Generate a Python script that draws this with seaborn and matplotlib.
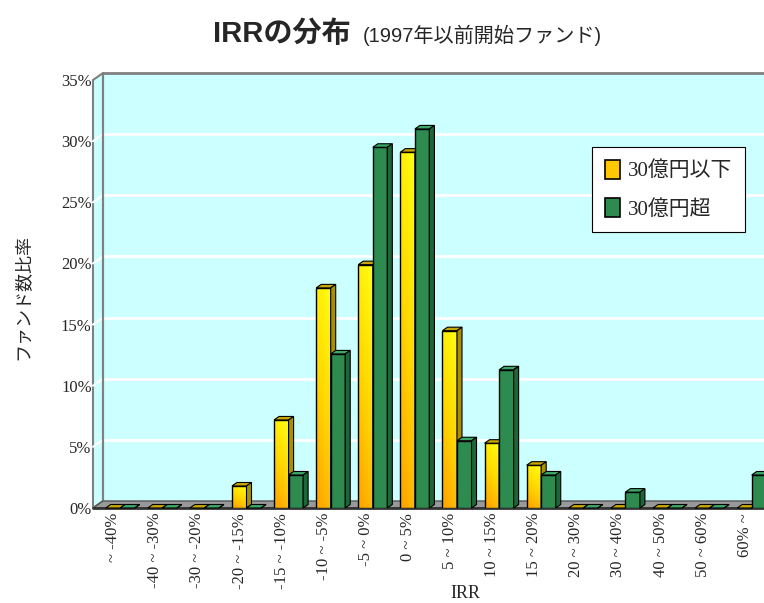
import numpy as np
import pandas as pd
import matplotlib
matplotlib.use('Agg')
import matplotlib.pyplot as plt
import seaborn as sns
from matplotlib.patches import Polygon, Rectangle, Patch
from matplotlib.colors import LinearSegmentedColormap
from matplotlib.transforms import ScaledTranslation

# ---------------- data ----------------
categories = ['~ -40%', '-40 ~ -30%', '-30 ~ -20%', '-20 ~ -15%', '-15 ~ -10%',
              '-10 ~ -5%', '-5 ~ 0%', '0 ~ 5%', '5 ~ 10%', '10 ~ 15%',
              '15 ~ 20%', '20 ~ 30%', '30 ~ 40%', '40 ~ 50%', '50 ~ 60%', '60% ~']
small_funds = [0, 0, 0, 1.8, 7.2, 18.0, 19.9, 29.1, 14.5, 5.3, 3.5, 0, 0, 0, 0, 0]
large_funds = [0, 0, 0, 0, 2.7, 12.6, 29.5, 31.0, 5.5, 11.3, 2.7, 0, 1.3, 0, 0, 2.7]
series_names = ['30億円以下', '30億円超']
y_ticks = [0, 5, 10, 15, 20, 25, 30, 35]
y_tick_labels = [f'{v}%' for v in y_ticks]
title_main = 'IRRの分布'
title_sub = '(1997年以前開始ファンド)'
x_label = 'IRR'
y_label = 'ファンド数比率'

df = pd.DataFrame({
    'IRR': categories * 2,
    'share': small_funds + large_funds,
    'group': [series_names[0]] * len(categories) + [series_names[1]] * len(categories),
})

sns.set_theme(style='white')
plt.rcParams['font.family'] = ['Noto Sans CJK JP', 'DejaVu Sans']
SERIF = ['Liberation Serif', 'Noto Sans CJK JP']
CJK = ['Noto Sans CJK JP', 'DejaVu Sans']
SANS = ['Liberation Sans', 'Noto Sans CJK JP']

W, H = 764, 603
fig = plt.figure(figsize=(W / 100, H / 100), dpi=100)
fig.patch.set_facecolor('white')

px_per_cat = 42.1
first_center = 120.2
xl = (93 - first_center) / px_per_cat
xr = (764 - first_center) / px_per_cat
ymax = 35
ax = fig.add_axes([93 / W, (H - 508) / H, (764 - 93) / W, (508 - 80) / H])
ax.set_facecolor('none')

YELLOW = '#FFD200'
GREEN = '#2E8B50'
sns.barplot(data=df, x='IRR', y='share', hue='group', hue_order=series_names,
            palette={series_names[0]: YELLOW, series_names[1]: GREEN},
            width=0.69, gap=0, saturation=1, edgecolor='black', linewidth=1.0,
            legend=False, ax=ax, errorbar=None)

ax.set_xlim(xl, xr)
ax.set_ylim(0, ymax)

dxd = 1 / px_per_cat           # data units per pixel (x)
dyd = ymax / 428.0             # data units per pixel (y)
bx, by = 10 * dxd, 7 * dyd     # back wall offset
ddx, ddy = 5 * dxd, 3.5 * dyd  # bar depth

# back wall
ax.add_patch(Rectangle((xl + bx, by), xr - xl + 1, ymax, facecolor='#CCFFFF',
                       edgecolor='none', zorder=0, clip_on=False))
for v in y_ticks[1:-1]:
    ax.plot([xl + bx, xr + 1], [v + by, v + by], color='white', lw=2,
            zorder=0.5, clip_on=False, solid_capstyle='butt')
# left wall
ax.add_patch(Polygon([(xl, 0), (xl, ymax), (xl + bx, ymax + by), (xl + bx, by)],
                     closed=True, facecolor='#CCFFFF', edgecolor='#808080', lw=1.5,
                     zorder=0.6, clip_on=False))
for v in y_ticks[1:-1]:
    ax.plot([xl, xl + bx], [v, v + by], color='white', lw=1.5, zorder=0.65, clip_on=False)
# back wall frame
ax.plot([xl + bx, xr + 1], [ymax + by, ymax + by], color='#808080', lw=2, zorder=0.7, clip_on=False)
ax.plot([xl + bx, xl + bx], [by, ymax + by], color='#808080', lw=1.5, zorder=0.7, clip_on=False)
# floor
ax.add_patch(Polygon([(xl, 0), (xr + 1, 0), (xr + 1 + bx, by), (xl + bx, by)],
                     closed=True, facecolor='#999999', edgecolor='#555555', lw=1,
                     zorder=0.8, clip_on=False))
ax.plot([xl, xr + 1], [0, 0], color='#333333', lw=2, zorder=0.85, clip_on=False)

# 3D bar faces and gradient
ycmap = LinearSegmentedColormap.from_list('yo', ['#FFFF10', '#FFD800', '#FFA000'])
gv = np.linspace(0, 1, 80)[:, None]
gh = np.linspace(0, 1, 20)[None, :]
grad = 0.75 * gv + 0.25 * (1 - gh)
face_cols = [('#C8A800', '#A89000'), ('#3CA865', '#1C6638')]
for h, cont in enumerate(ax.containers):
    for i, rect in enumerate(cont):
        base = 2 + i * 0.1 + h * 0.03
        x0b, w, hgt = rect.get_x(), rect.get_width(), rect.get_height()
        rect.set_zorder(base + 0.005)
        if h == 0 and hgt > 0:
            rect.set_facecolor('none')
            ax.imshow(grad, extent=(x0b, x0b + w, 0, hgt), aspect='auto', cmap=ycmap,
                      vmin=0, vmax=1, zorder=base, interpolation='bilinear')
        top_c, side_c = face_cols[h]
        ax.add_patch(Polygon([(x0b, hgt), (x0b + w, hgt), (x0b + w + ddx, hgt + ddy),
                              (x0b + ddx, hgt + ddy)], closed=True, facecolor=top_c,
                             edgecolor='black', lw=0.8, zorder=base + 0.01, clip_on=False))
        ax.add_patch(Polygon([(x0b + w, 0), (x0b + w, hgt), (x0b + w + ddx, hgt + ddy),
                              (x0b + w + ddx, ddy)], closed=True, facecolor=side_c,
                             edgecolor='black', lw=0.8, zorder=base + 0.01, clip_on=False))

ax.set_xlim(xl, xr)
ax.set_ylim(0, ymax)
ax.grid(False)
for s in ax.spines.values():
    s.set_visible(False)

ax.set_yticks(y_ticks)
ax.set_yticklabels(y_tick_labels, fontsize=12, family=SERIF)
ax.tick_params(axis='y', length=0, pad=1)
ax.set_xticks(range(len(categories)))
ax.set_xticklabels(categories, rotation=90, fontsize=12, family=SERIF)
ax.tick_params(axis='x', length=0, pad=3.5)
shift = ScaledTranslation(-0.07, 0, fig.dpi_scale_trans)
for lbl in ax.get_xticklabels():
    lbl.set_transform(lbl.get_transform() + shift)
ax.set_xlabel('')
ax.set_ylabel('')

fig.text(465 / W, 1 - 593 / H, x_label, ha='center', va='center', fontsize=13, family=SERIF)
fig.text(22 / W, 1 - 297 / H, y_label, ha='center', va='center', rotation=90,
         fontsize=13, family=CJK)
fig.text(213 / W, 1 - 42 / H, title_main, ha='left', va='baseline', fontsize=21,
         fontweight='bold', family=SANS)
fig.text(363 / W, 1 - 42 / H, title_sub, ha='left', va='baseline', fontsize=14.5,
         family=SANS)

handles = [Patch(facecolor='#FFC800', edgecolor='black', lw=1.2),
           Patch(facecolor=GREEN, edgecolor='black', lw=1.2)]
leg = ax.legend(handles, series_names, loc='upper left',
                bbox_to_anchor=(582 / W, 1 - 137 / H), bbox_transform=fig.transFigure,
                fancybox=False, framealpha=1, edgecolor='black', facecolor='white',
                prop={'family': SERIF, 'size': 15}, handlelength=0.7, handleheight=1.0,
                handletextpad=0.4, labelspacing=0.8, borderpad=0.6)
leg.get_frame().set_linewidth(0.8)
leg.set_zorder(10)

fig.savefig('out.png', dpi=100)
